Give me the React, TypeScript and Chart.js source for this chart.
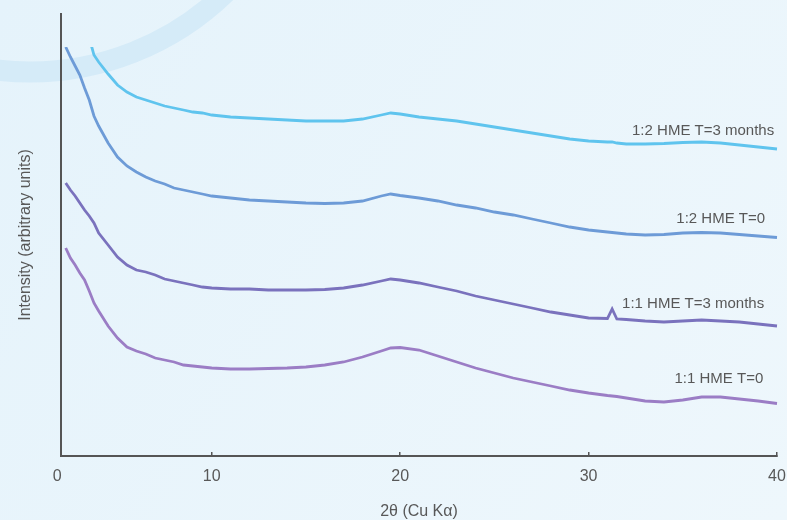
import React, { useEffect, useRef } from "react";
import { Chart, registerables } from "chart.js";

Chart.register(...registerables);

// 2θ angles (degrees) at which the patterns were read
const twoTheta = [
  2.25, 2.5, 2.75, 3, 3.25, 3.5, 3.75, 4, 4.5, 5, 5.5, 6, 6.5, 7, 7.5, 8, 8.5, 9, 9.5, 10,
  11, 12, 13, 14, 15, 16, 17, 18, 19, 19.5, 20, 21, 22, 23, 24, 25, 26, 27, 28, 29, 30,
  31, 31.25, 31.5, 32, 33, 34, 35, 36, 37, 38, 39, 40, 40.3,
];

// Intensities (arbitrary units, stacked/offset patterns)
const hme12T3 = [
  null, null, null, null, null, 418, 401, 394, 382, 371, 364, 359, 356, 353, 350, 348, 346, 344, 343, 341,
  339, 338, 337, 336, 335, 335, 335, 337, 341, 343, 342, 339, 337, 335, 332, 329, 326, 323, 320, 317, 315,
  314, 314, 313, 312, 312, 312.5, 313.5, 314, 313, 311, 309, 307, 306.5,
];
const hme12T0 = [
  409, 399, 390, 381, 368, 356, 340, 330, 313, 299, 290, 284, 279, 275, 272, 268, 266, 264, 262, 260,
  258, 256, 255, 254, 253, 252.5, 253, 255, 260, 262, 260.5, 258, 255, 251, 248, 244, 241, 237, 233, 229, 226,
  224, 223.5, 223, 222, 221, 221.5, 223, 223.5, 223, 221.5, 220, 218.5, 218,
];
const hme11T3 = [
  273, 266, 260, 253, 246, 240, 233, 223, 211, 199, 191, 186, 184, 181, 177, 175, 173, 171, 169, 168,
  167, 167, 166, 166, 166, 166.5, 168, 171, 175, 177, 176, 173, 169, 165, 160, 156, 152, 148, 144, 141, 138,
  137.5, 147, 137, 136.5, 135, 134, 135, 136, 135, 134, 132, 130, 129.5,
];
const hme11T0 = [
  208, 198, 191, 183, 176, 165, 153, 145, 130, 118, 109, 105, 102, 98, 96, 94, 91, 90, 89, 88,
  87, 87, 87.5, 88, 89, 91, 94, 99, 105, 108, 108.5, 106, 100, 94, 88, 83, 78, 74, 70, 66, 63,
  60.5, 60, 59.5, 58, 55, 54, 56, 59, 59, 57, 55, 52.5, 52,
];

const seriesLabels = ["1:2 HME T=3 months", "1:2 HME T=0", "1:1 HME T=3 months", "1:1 HME T=0"];
const seriesValues = [hme12T3, hme12T0, hme11T3, hme11T0];
const seriesColors = ["#5fc4ee", "#6d9bd7", "#7a72bd", "#9b7dc5"];

const xTickValues = [1.8, 10, 20, 30, 40];
const xTickLabels = ["0", "10", "20", "30", "40"];

// label anchors in data coordinates (right end, baseline)
const labelAtX = [39.85, 39.37, 39.32, 39.27];
const labelAtY = [321.5, 233.3, 147.7, 72.7];

const FONT = '"Liberation Sans", Arial, sans-serif';
const TEXT = "#585858";
const AXIS = "#555555";

const backgroundPlugin = {
  id: "bg",
  beforeDraw(chart: any) {
    const { ctx, width, height } = chart;
    ctx.save();
    const g = ctx.createLinearGradient(0, 0, width, height);
    g.addColorStop(0, "#e5f3fb");
    g.addColorStop(1, "#eef7fc");
    ctx.fillStyle = g;
    ctx.fillRect(0, 0, width, height);
    ctx.beginPath();
    ctx.arc(30, -209, 281, 0, Math.PI * 2);
    ctx.strokeStyle = "#d5ebf8";
    ctx.lineWidth = 21;
    ctx.stroke();
    ctx.restore();
  },
};

const labelPlugin = {
  id: "seriesLabels",
  afterDatasetsDraw(chart: any) {
    const { ctx } = chart;
    const xs = chart.scales.x;
    const ys = chart.scales.y;
    ctx.save();
    ctx.font = `15px ${FONT}`;
    ctx.fillStyle = TEXT;
    ctx.textAlign = "right";
    ctx.textBaseline = "alphabetic";
    seriesLabels.forEach((t, i) => {
      ctx.fillText(t, xs.getPixelForValue(labelAtX[i]), ys.getPixelForValue(labelAtY[i]));
    });
    ctx.restore();
  },
};

export default function App() {
  const ref = useRef<HTMLCanvasElement | null>(null);

  useEffect(() => {
    document.body.style.margin = "0";
    const canvas = ref.current;
    if (!canvas) return;
    const chart = new Chart(canvas, {
      type: "line",
      data: {
        datasets: seriesValues.map((vals, i) => ({
          label: seriesLabels[i],
          data: twoTheta.map((x, j) => ({ x, y: vals[j] })),
          borderColor: seriesColors[i],
          backgroundColor: seriesColors[i],
          borderWidth: 2.8,
          pointRadius: 0,
          tension: 0,
          fill: false,
          clip: { left: 0, top: -33, right: 6, bottom: 0 },
        })),
      } as any,
      options: {
        responsive: false,
        animation: false,
        layout: { padding: { top: 14, right: 10, left: 0, bottom: 0 } },
        plugins: { legend: { display: false }, tooltip: { enabled: false } },
        scales: {
          x: {
            type: "linear",
            min: 2,
            max: 40,
            afterFit: (s: any) => {
              s.height = 64;
              s.paddingLeft = 0;
              s.paddingRight = 0;
            },
            afterBuildTicks: (s: any) => {
              s.ticks = xTickValues.map((v) => ({ value: v }));
            },
            ticks: {
              autoSkip: false,
              maxRotation: 0,
              padding: 15,
              color: TEXT,
              font: { family: FONT, size: 16 },
              callback: (_v: any, idx: number) => xTickLabels[idx],
            },
            grid: {
              drawOnChartArea: false,
              drawTicks: true,
              tickLength: -4,
              lineWidth: 1.5,
              color: (c: any) => (c.tick && c.tick.value < 5 ? "rgba(0,0,0,0)" : AXIS),
            },
            border: { display: true, color: AXIS, width: 2 },
            title: {
              display: true,
              text: "2θ (Cu Kα)",
              color: TEXT,
              font: { family: FONT, size: 16, lineHeight: 1 },
              padding: 0,
            },
          },
          y: {
            min: 0,
            max: 442,
            afterFit: (s: any) => {
              s.width = 61;
            },
            ticks: { display: false },
            grid: { display: false, drawTicks: false },
            border: { display: true, color: AXIS, width: 2 },
            title: {
              display: true,
              text: "Intensity (arbitrary units)",
              color: TEXT,
              font: { family: FONT, size: 16 },
              padding: { top: 16, bottom: 0 },
            },
          },
        },
      } as any,
      plugins: [backgroundPlugin, labelPlugin],
    });
    return () => chart.destroy();
  }, []);

  return (
    <div style={{ width: 787, height: 520 }}>
      <canvas ref={ref} width={787} height={520} />
    </div>
  );
}
